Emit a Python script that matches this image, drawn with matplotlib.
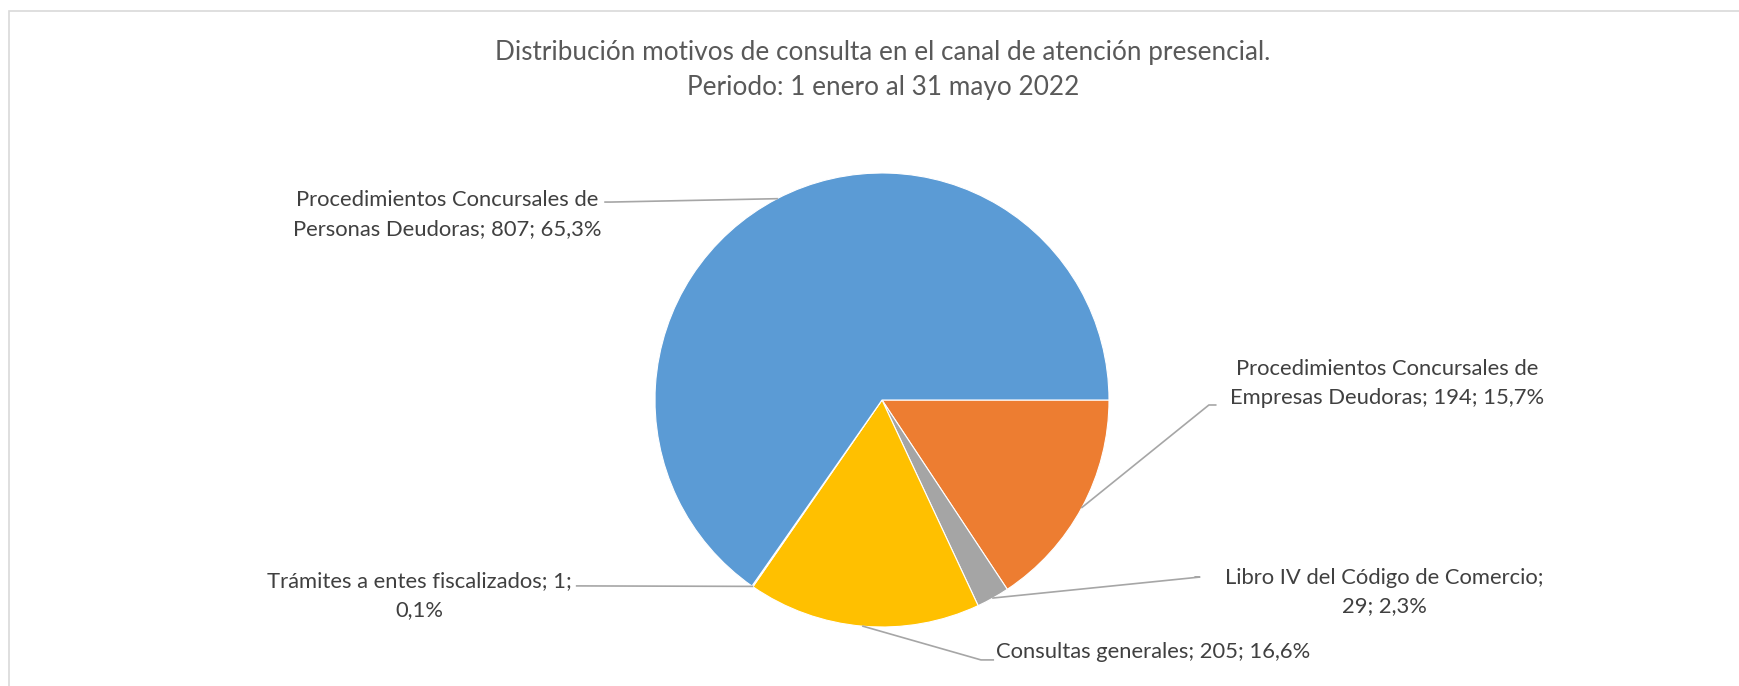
import matplotlib.pyplot as plt
import matplotlib.patches as patches
import numpy as np

plt.rcParams['font.family'] = ['Lato', 'DejaVu Sans']

nombres = ['Procedimientos Concursales de Empresas Deudoras',
           'Libro IV del Código de Comercio',
           'Consultas generales',
           'Trámites a entes fiscalizados',
           'Procedimientos Concursales de Personas Deudoras']
valores = [194, 29, 205, 1, 807]
colores = ['#ED7D31', '#A5A5A5', '#FFC000', '#4472C4', '#5B9BD5']

# label text (Excel style: name; value; percent)
total = sum(valores)
pct = [f'{v/total*100:.1f}%'.replace('.', ',') for v in valores]
etiquetas = [
    f'Procedimientos Concursales de\nEmpresas Deudoras; {valores[0]}; {pct[0]}',
    f'Libro IV del Código de Comercio;\n{valores[1]}; {pct[1]}',
    f'Consultas generales; {valores[2]}; {pct[2]}',
    f'Trámites a entes fiscalizados; {valores[3]};\n{pct[3]}',
    f'Procedimientos Concursales de\nPersonas Deudoras; {valores[4]}; {pct[4]}',
]
# label centre (data units of the pie), alignment, leader end, leader knee
pos_texto = [(2.226, 0.072), (2.213, -0.846), (0.502, -1.11), (-2.04, -0.863), (-1.916, 0.818)]
alin = ['center', 'center', 'left', 'center', 'center']
fin_linea = [(1.47, -0.022), (1.38, -0.78), (0.49, -1.145), (-1.345, -0.819), (-1.22, 0.872)]
codo = [(1.44, -0.022), (1.40, -0.78), (0.436, -1.145), (-1.33, -0.819), (-1.195, 0.872)]

W, H = 1739, 686
fig = plt.figure(figsize=(W/100, H/100), dpi=100)
fig.patch.set_facecolor('white')

# chart area frame (only top and left visible)
fig.add_artist(patches.Rectangle((9/W, -0.1), 1.2, 1 - 11/H + 0.1, transform=fig.transFigure,
                                 fill=False, edgecolor='#D9D9D9', linewidth=1.2))

fig.text(883/W, 1 - 70/H, 'Distribución motivos de consulta en el canal de atención presencial.\nPeriodo: 1 enero al 31 mayo 2022',
         ha='center', va='center', fontsize=18.8, color='#595959', linespacing=1.5)

r = 227
ax = fig.add_axes([(882 - r)/W, (H - 400 - r)/H, 2*r/W, 2*r/H])
wedges, _ = ax.pie(valores, colors=colores, startangle=0, counterclock=False, radius=1,
                   wedgeprops=dict(edgecolor='white', linewidth=0.8))
ax.set_xlim(-1, 1)
ax.set_ylim(-1, 1)
ax.set_aspect('equal')
ax.axis('off')

for w, txt, p, a, fl, cd in zip(wedges, etiquetas, pos_texto, alin, fin_linea, codo):
    ang = np.deg2rad((w.theta1 + w.theta2) / 2)
    x0, y0 = np.cos(ang), np.sin(ang)
    ax.plot([x0, cd[0], fl[0]], [y0, cd[1], fl[1]], color='#A6A6A6', linewidth=1.2,
            clip_on=False)
    ax.text(p[0], p[1], txt, ha=a, va='center', multialignment='center', fontsize=15.8,
            color='#404040', linespacing=1.55, clip_on=False)

plt.savefig('out.png', dpi=100)
